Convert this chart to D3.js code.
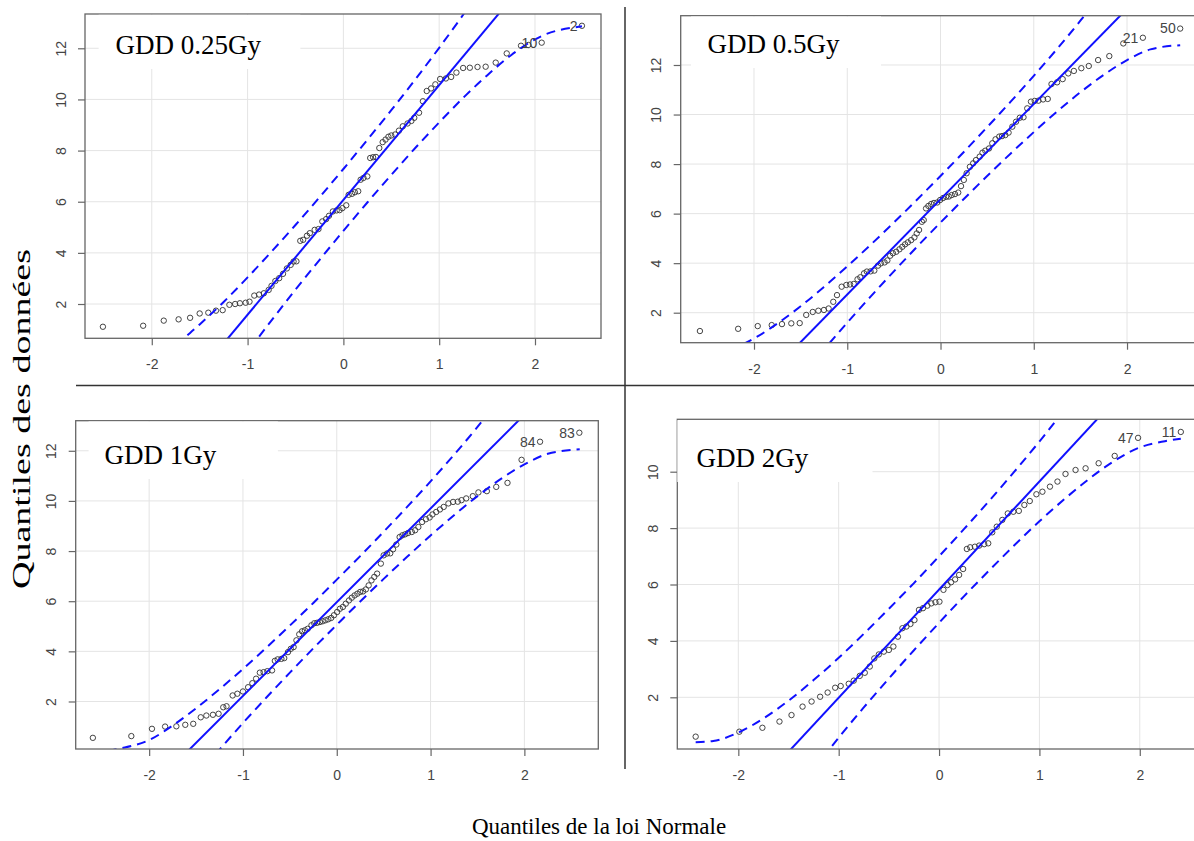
<!DOCTYPE html>
<html><head><meta charset="utf-8">
<script src="https://cdn.jsdelivr.net/npm/d3@7"></script>
<style>
body{margin:0;background:#fff;}
svg{display:block;}
</style></head>
<body>
<svg id="chart" width="1194" height="841"></svg>
<script>
// ---------- DATA ----------
const panelNames = ["GDD 0.25Gy", "GDD 0.5Gy", "GDD 1Gy", "GDD 2Gy"];
const xAxisTitle = "Quantiles de la loi Normale";
const yAxisTitle = "Quantiles des données";
const xTicks = [-2, -1, 0, 1, 2];
const yTicks025 = [2, 4, 6, 8, 10, 12];
const yTicks05 = [2, 4, 6, 8, 10, 12];
const yTicks1 = [2, 4, 6, 8, 10, 12];
const yTicks2 = [2, 4, 6, 8, 10];

// [theoretical quantile, sample quantile]
const qq025 = [[-2.51,1.11],[-2.09,1.15],[-1.875,1.35],[-1.72,1.40],[-1.60,1.46],[-1.50,1.63],[-1.41,1.66],[-1.33,1.74],[-1.26,1.76],[-1.19,1.97],[-1.13,2.00],[-1.08,2.03],[-1.02,2.05],[-0.98,2.09],[-0.93,2.33],[-0.88,2.37],[-0.83,2.42],[-0.78,2.55],[-0.75,2.71],[-0.71,2.90],[-0.67,3.01],[-0.63,3.18],[-0.59,3.39],[-0.55,3.53],[-0.52,3.66],[-0.49,3.67],[-0.45,4.47],[-0.42,4.51],[-0.38,4.67],[-0.35,4.77],[-0.30,4.90],[-0.26,4.93],[-0.22,5.23],[-0.18,5.32],[-0.15,5.45],[-0.11,5.62],[-0.07,5.66],[-0.04,5.67],[-0.01,5.75],[0.03,5.86],[0.055,6.27],[0.09,6.31],[0.12,6.37],[0.155,6.41],[0.18,6.86],[0.21,6.93],[0.25,6.99],[0.28,7.71],[0.31,7.74],[0.34,7.75],[0.375,8.10],[0.41,8.33],[0.44,8.43],[0.47,8.54],[0.50,8.59],[0.54,8.63],[0.58,8.78],[0.62,8.95],[0.67,9.06],[0.71,9.16],[0.74,9.28],[0.79,9.48],[0.83,9.93],[0.87,10.33],[0.915,10.43],[0.96,10.59],[1.01,10.80],[1.07,10.82],[1.125,10.88],[1.18,11.05],[1.25,11.23],[1.32,11.24],[1.40,11.27],[1.485,11.28],[1.59,11.44],[1.705,11.80],[1.854,12.10],[1.93,12.13],[2.07,12.22],[2.49,12.88]];
const qq05 = [[-2.58,1.26],[-2.17,1.35],[-1.96,1.46],[-1.81,1.50],[-1.70,1.54],[-1.60,1.57],[-1.51,1.58],[-1.44,1.91],[-1.37,2.03],[-1.31,2.08],[-1.25,2.11],[-1.20,2.17],[-1.15,2.44],[-1.11,2.71],[-1.06,3.05],[-1.01,3.12],[-0.97,3.14],[-0.93,3.16],[-0.89,3.35],[-0.86,3.43],[-0.82,3.59],[-0.79,3.66],[-0.75,3.67],[-0.71,3.70],[-0.67,3.90],[-0.64,3.99],[-0.60,4.03],[-0.57,4.11],[-0.54,4.30],[-0.51,4.40],[-0.475,4.46],[-0.44,4.56],[-0.41,4.66],[-0.38,4.76],[-0.35,4.84],[-0.315,4.93],[-0.28,5.04],[-0.255,5.20],[-0.23,5.34],[-0.20,5.67],[-0.18,5.74],[-0.155,6.21],[-0.13,6.31],[-0.10,6.39],[-0.07,6.43],[-0.035,6.45],[-0.004,6.55],[0.028,6.63],[0.06,6.68],[0.09,6.69],[0.12,6.75],[0.155,6.79],[0.19,6.85],[0.22,7.11],[0.25,7.36],[0.28,7.63],[0.315,7.89],[0.35,8.03],[0.38,8.16],[0.42,8.30],[0.45,8.46],[0.48,8.54],[0.52,8.63],[0.555,8.84],[0.59,9.00],[0.63,9.11],[0.66,9.13],[0.695,9.17],[0.73,9.27],[0.77,9.51],[0.81,9.71],[0.85,9.87],[0.89,9.89],[0.93,10.25],[0.97,10.52],[1.01,10.55],[1.05,10.56],[1.10,10.61],[1.15,10.63],[1.19,11.23],[1.25,11.30],[1.31,11.43],[1.37,11.66],[1.43,11.76],[1.51,11.87],[1.59,11.96],[1.69,12.20],[1.81,12.36],[1.96,12.87],[2.17,13.10],[2.57,13.47]];
const qq1 = [[-2.60,0.55],[-2.19,0.62],[-1.97,0.91],[-1.83,1.00],[-1.71,1.01],[-1.615,1.07],[-1.53,1.11],[-1.45,1.37],[-1.39,1.44],[-1.32,1.47],[-1.26,1.51],[-1.21,1.77],[-1.175,1.81],[-1.11,2.24],[-1.06,2.31],[-1.00,2.40],[-0.945,2.57],[-0.90,2.73],[-0.86,2.91],[-0.82,3.15],[-0.78,3.17],[-0.74,3.21],[-0.69,3.24],[-0.66,3.62],[-0.63,3.68],[-0.59,3.70],[-0.56,3.73],[-0.52,3.97],[-0.49,4.10],[-0.46,4.17],[-0.43,4.44],[-0.40,4.68],[-0.37,4.80],[-0.34,4.84],[-0.31,4.90],[-0.27,5.04],[-0.24,5.12],[-0.21,5.14],[-0.18,5.17],[-0.15,5.20],[-0.12,5.24],[-0.09,5.28],[-0.06,5.33],[-0.03,5.44],[0.004,5.57],[0.034,5.70],[0.065,5.77],[0.096,5.90],[0.13,6.03],[0.16,6.14],[0.19,6.23],[0.22,6.30],[0.25,6.37],[0.28,6.39],[0.31,6.47],[0.34,6.63],[0.37,6.83],[0.40,6.97],[0.43,7.10],[0.47,7.50],[0.50,7.83],[0.535,7.90],[0.57,7.91],[0.60,8.07],[0.635,8.26],[0.67,8.56],[0.70,8.63],[0.73,8.67],[0.76,8.72],[0.80,8.76],[0.835,8.83],[0.87,8.96],[0.91,9.16],[0.95,9.27],[0.99,9.34],[1.02,9.46],[1.06,9.56],[1.10,9.66],[1.14,9.76],[1.19,9.90],[1.24,9.96],[1.29,9.97],[1.33,10.03],[1.38,10.10],[1.45,10.19],[1.51,10.34],[1.60,10.39],[1.70,10.56],[1.82,10.72],[1.97,11.64],[2.167,12.36],[2.586,12.72]];
const qq2 = [[-2.425,0.605],[-1.99,0.78],[-1.76,0.92],[-1.59,1.14],[-1.47,1.37],[-1.36,1.67],[-1.27,1.85],[-1.185,2.02],[-1.11,2.17],[-1.035,2.34],[-0.98,2.40],[-0.90,2.48],[-0.85,2.59],[-0.79,2.76],[-0.74,2.87],[-0.69,3.09],[-0.645,3.38],[-0.60,3.52],[-0.55,3.62],[-0.50,3.68],[-0.455,3.80],[-0.41,4.15],[-0.365,4.45],[-0.325,4.51],[-0.285,4.60],[-0.245,4.74],[-0.20,5.10],[-0.16,5.16],[-0.117,5.25],[-0.077,5.33],[-0.036,5.37],[0.004,5.39],[0.044,5.81],[0.084,5.98],[0.12,6.08],[0.16,6.18],[0.20,6.34],[0.24,6.55],[0.277,7.26],[0.31,7.32],[0.357,7.34],[0.40,7.38],[0.45,7.43],[0.49,7.46],[0.53,7.85],[0.575,8.05],[0.63,8.29],[0.685,8.52],[0.74,8.58],[0.795,8.61],[0.85,8.82],[0.904,8.96],[0.97,9.20],[1.03,9.29],[1.105,9.47],[1.18,9.65],[1.26,9.92],[1.36,10.06],[1.46,10.12],[1.59,10.30],[1.75,10.56],[1.983,11.20],[2.409,11.41]];

// identified extreme observations (last two points of each panel)
const ids025 = ["10", "2"];
const ids05 = ["21", "50"];
const ids1 = ["84", "83"];
const ids2 = ["47", "11"];

// reference line [intercept, slope]
const refLine025 = [6.07, 4.49];
const refLine05 = [6.58, 3.845];
const refLine1 = [5.96, 3.74];
const refLine2 = [5.82, 3.835];

// confidence envelope [theoretical quantile, value]
const envUpper025 = [[-1.875,0.06],[-1.72,0.50],[-1.60,0.87],[-1.5,1.20],[-1.25,2.08],[-1,3.04],[-0.75,4.05],[-0.5,5.09],[-0.25,6.17],[0,7.28],[0.25,8.42],[0.5,9.58],[0.75,10.78],[1,12.02],[1.25,13.31],[1.5,14.67]];
const envLower025 = [[-1.25,-1.17],[-1,0.12],[-0.75,1.36],[-0.5,2.56],[-0.25,3.72],[0,4.86],[0.25,5.97],[0.5,7.05],[0.75,8.10],[1,9.10],[1.25,10.06],[1.5,10.94],[1.75,11.73],[2.07,12.48],[2.49,12.86]];
const envUpper05 = [[-2.58,0.33],[-2.25,0.53],[-2,0.96],[-1.75,1.56],[-1.5,2.26],[-1.25,3.04],[-1,3.87],[-0.75,4.74],[-0.5,5.64],[-0.25,6.57],[0,7.52],[0.25,8.49],[0.5,9.49],[0.75,10.51],[1,11.56],[1.25,12.65],[1.5,13.79],[1.75,15.01]];
const envLower05 = [[-1.5,-0.63],[-1.25,0.51],[-1,1.60],[-0.75,2.65],[-0.5,3.67],[-0.25,4.67],[0,5.64],[0.25,6.59],[0.5,7.52],[0.75,8.42],[1,9.29],[1.25,10.12],[1.5,10.90],[1.75,11.60],[2,12.20],[2.25,12.63],[2.57,12.80]];
const envUpper1 = [[-2.6,-0.05],[-2.3,0.13],[-2,0.46],[-1.75,1.04],[-1.5,1.73],[-1.25,2.49],[-1,3.30],[-0.75,4.15],[-0.5,5.03],[-0.25,5.93],[0,6.86],[0.25,7.80],[0.5,8.77],[0.75,9.76],[1,10.78],[1.25,11.84],[1.5,12.95],[1.75,14.13]];
const envLower1 = [[-1.5,-1.03],[-1.25,0.08],[-1,1.14],[-0.75,2.16],[-0.5,3.15],[-0.25,4.12],[0,5.06],[0.25,5.99],[0.5,6.89],[0.75,7.77],[1,8.62],[1.25,9.43],[1.5,10.19],[1.75,10.88],[2,11.46],[2.25,11.88],[2.59,12.06]];
const envUpper2 = [[-2.425,0.41],[-2.25,0.45],[-2,0.75],[-1.75,1.25],[-1.5,1.88],[-1.25,2.61],[-1,3.40],[-0.75,4.25],[-0.5,5.14],[-0.25,6.05],[0,7.00],[0.25,7.97],[0.5,8.97],[0.75,10.00],[1,11.07],[1.25,12.20]];
const envLower2 = [[-1.25,-0.56],[-1,0.57],[-0.75,1.64],[-0.5,2.67],[-0.25,3.67],[0,4.64],[0.25,5.59],[0.5,6.50],[0.75,7.39],[1,8.24],[1.25,9.03],[1.5,9.76],[1.75,10.39],[2,10.86],[2.25,11.08],[2.409,11.17]];

// ---------- LAYOUT (pixels) ----------
const layout = [
  {left:85,    right:601,    top:14,    bottom:338.3, xd:[-2.697,2.689], yd:[0.659,13.341], box:{x0:98.6, x1:300.4, y1:69},  tx:115.5, ty:54.3},
  {left:680.7, right:1200.7, top:15.7,  bottom:342.7, xd:[-2.786,2.79],  yd:[0.789,13.99],  box:{x0:691,  x1:881,   y1:68},  tx:707.6, ty:53.3},
  {left:75.7,  right:598.3,  top:420.7, bottom:749,   xd:[-2.783,2.788], yd:[0.105,13.2],   box:{x0:88.6, x1:277.9, y1:479}, tx:104.6, ty:464.3},
  {left:677.3, right:1201,   top:419.3, bottom:749,   xd:[-2.608,2.61],  yd:[0.167,11.858], box:{x0:677.3,x1:872.5, y1:482}, tx:696.5, ty:466.7}
];

const panels = [
  {name:panelNames[0], data:qq025, ids:ids025, line:refLine025, up:envUpper025, lo:envLower025, yt:yTicks025},
  {name:panelNames[1], data:qq05,  ids:ids05,  line:refLine05,  up:envUpper05,  lo:envLower05,  yt:yTicks05},
  {name:panelNames[2], data:qq1,   ids:ids1,   line:refLine1,   up:envUpper1,   lo:envLower1,   yt:yTicks1},
  {name:panelNames[3], data:qq2,   ids:ids2,   line:refLine2,   up:envUpper2,   lo:envLower2,   yt:yTicks2}
];

const BLUE = "#1010ff";
const SANS = "'Liberation Sans', Arial, sans-serif";
const SERIF = "'Liberation Serif', 'Times New Roman', serif";

const svg = d3.select("#chart");
const defs = svg.append("defs");

panels.forEach((p, i) => {
  const L = layout[i];
  const x = d3.scaleLinear().domain(L.xd).range([L.left, L.right]);
  const y = d3.scaleLinear().domain(L.yd).range([L.bottom, L.top]);
  const g = svg.append("g").attr("class", "panel");

  defs.append("clipPath").attr("id", "clip" + i)
    .append("rect").attr("x", L.left).attr("y", L.top)
    .attr("width", L.right - L.left).attr("height", L.bottom - L.top);

  const inner = g.append("g").attr("clip-path", `url(#clip${i})`);

  // grid
  inner.selectAll(".gridx").data(xTicks).join("line").attr("class", "gridx")
    .attr("x1", d => x(d)).attr("x2", d => x(d))
    .attr("y1", L.top).attr("y2", L.bottom)
    .attr("stroke", "#e4e4e4").attr("stroke-width", 1);
  inner.selectAll(".gridy").data(p.yt).join("line").attr("class", "gridy")
    .attr("y1", d => y(d)).attr("y2", d => y(d))
    .attr("x1", L.left).attr("x2", L.right)
    .attr("stroke", "#e4e4e4").attr("stroke-width", 1);

  // points
  inner.selectAll(".pt").data(p.data).join("circle").attr("class", "pt")
    .attr("cx", d => x(d[0])).attr("cy", d => y(d[1])).attr("r", 2.7)
    .attr("fill", "none").attr("stroke", "#3a3a3a").attr("stroke-width", 0.95);

  // reference line
  const lineGen = d3.line().x(d => x(d[0])).y(d => y(d[1]));
  const ends = L.xd.map(v => [v, p.line[0] + p.line[1] * v]);
  inner.append("path").attr("d", lineGen(ends))
    .attr("fill", "none").attr("stroke", BLUE).attr("stroke-width", 2);

  // envelope
  const envGen = d3.line().x(d => x(d[0])).y(d => y(d[1])).curve(d3.curveMonotoneX);
  [p.up, p.lo].forEach(arr => {
    inner.append("path").attr("d", envGen(arr))
      .attr("fill", "none").attr("stroke", BLUE).attr("stroke-width", 2)
      .attr("stroke-dasharray", "9,6");
  });

  // id labels on the last two points
  const n = p.data.length;
  p.ids.forEach((lab, k) => {
    const d = p.data[n - 2 + k];
    g.append("text").attr("x", x(d[0]) - 4.5).attr("y", y(d[1])).attr("dy", "0.35em")
      .attr("text-anchor", "end").attr("fill", "#444")
      .style("font-family", SANS).style("font-size", "14px").text(lab);
  });

  // axes
  const ax = d3.axisBottom(x).tickValues(xTicks).tickFormat(d => String(d)).tickSize(7);
  const gx = g.append("g").attr("transform", `translate(0,${L.bottom})`).call(ax);
  gx.attr("font-family", null).attr("font-size", null);
  gx.select(".domain").remove();
  gx.selectAll(".tick line").attr("stroke", "#666").attr("stroke-width", 1.2);
  gx.selectAll(".tick text").attr("y", 31).attr("dy", null).attr("fill", "#444")
    .style("font-family", SANS).style("font-size", "14px");

  const ay = d3.axisLeft(y).tickValues(p.yt).tickFormat(d => String(d)).tickSize(7);
  const gy = g.append("g").attr("transform", `translate(${L.left},0)`).call(ay);
  gy.attr("font-family", null).attr("font-size", null);
  gy.select(".domain").remove();
  gy.selectAll(".tick line").attr("stroke", "#666").attr("stroke-width", 1.2);
  gy.selectAll(".tick text").attr("transform", "rotate(-90)").attr("x", 0).attr("y", -19.5)
    .attr("dy", null).attr("text-anchor", "middle").attr("fill", "#444")
    .style("font-family", SANS).style("font-size", "14px");

  // frame
  g.append("rect").attr("x", L.left).attr("y", L.top)
    .attr("width", L.right - L.left).attr("height", L.bottom - L.top)
    .attr("fill", "none").attr("stroke", "#666").attr("stroke-width", 1.3);

  // panel title on white patch
  g.append("rect").attr("x", L.box.x0).attr("y", L.top + 0.8)
    .attr("width", L.box.x1 - L.box.x0).attr("height", L.box.y1 - L.top - 0.8)
    .attr("fill", "#fff");
  g.append("text").attr("x", L.tx).attr("y", L.ty)
    .style("font-family", SERIF).style("font-size", "27px").attr("fill", "#000")
    .text(p.name);
});

// separators
svg.append("line").attr("x1", 76).attr("x2", 1194).attr("y1", 385.5).attr("y2", 385.5)
  .attr("stroke", "#333").attr("stroke-width", 1.5);
svg.append("line").attr("x1", 625).attr("x2", 625).attr("y1", 7).attr("y2", 769)
  .attr("stroke", "#333").attr("stroke-width", 1.5);

// axis titles
svg.append("text").attr("x", 599).attr("y", 834).attr("text-anchor", "middle")
  .style("font-family", SERIF).style("font-size", "23px").attr("fill", "#000").text(xAxisTitle);
svg.append("text").attr("transform", "translate(30,419) rotate(-90)").attr("text-anchor", "middle")
  .attr("textLength", 340).attr("lengthAdjust", "spacingAndGlyphs")
  .style("font-family", SERIF).style("font-size", "25px").attr("fill", "#000").text(yAxisTitle);
</script>
</body></html>
